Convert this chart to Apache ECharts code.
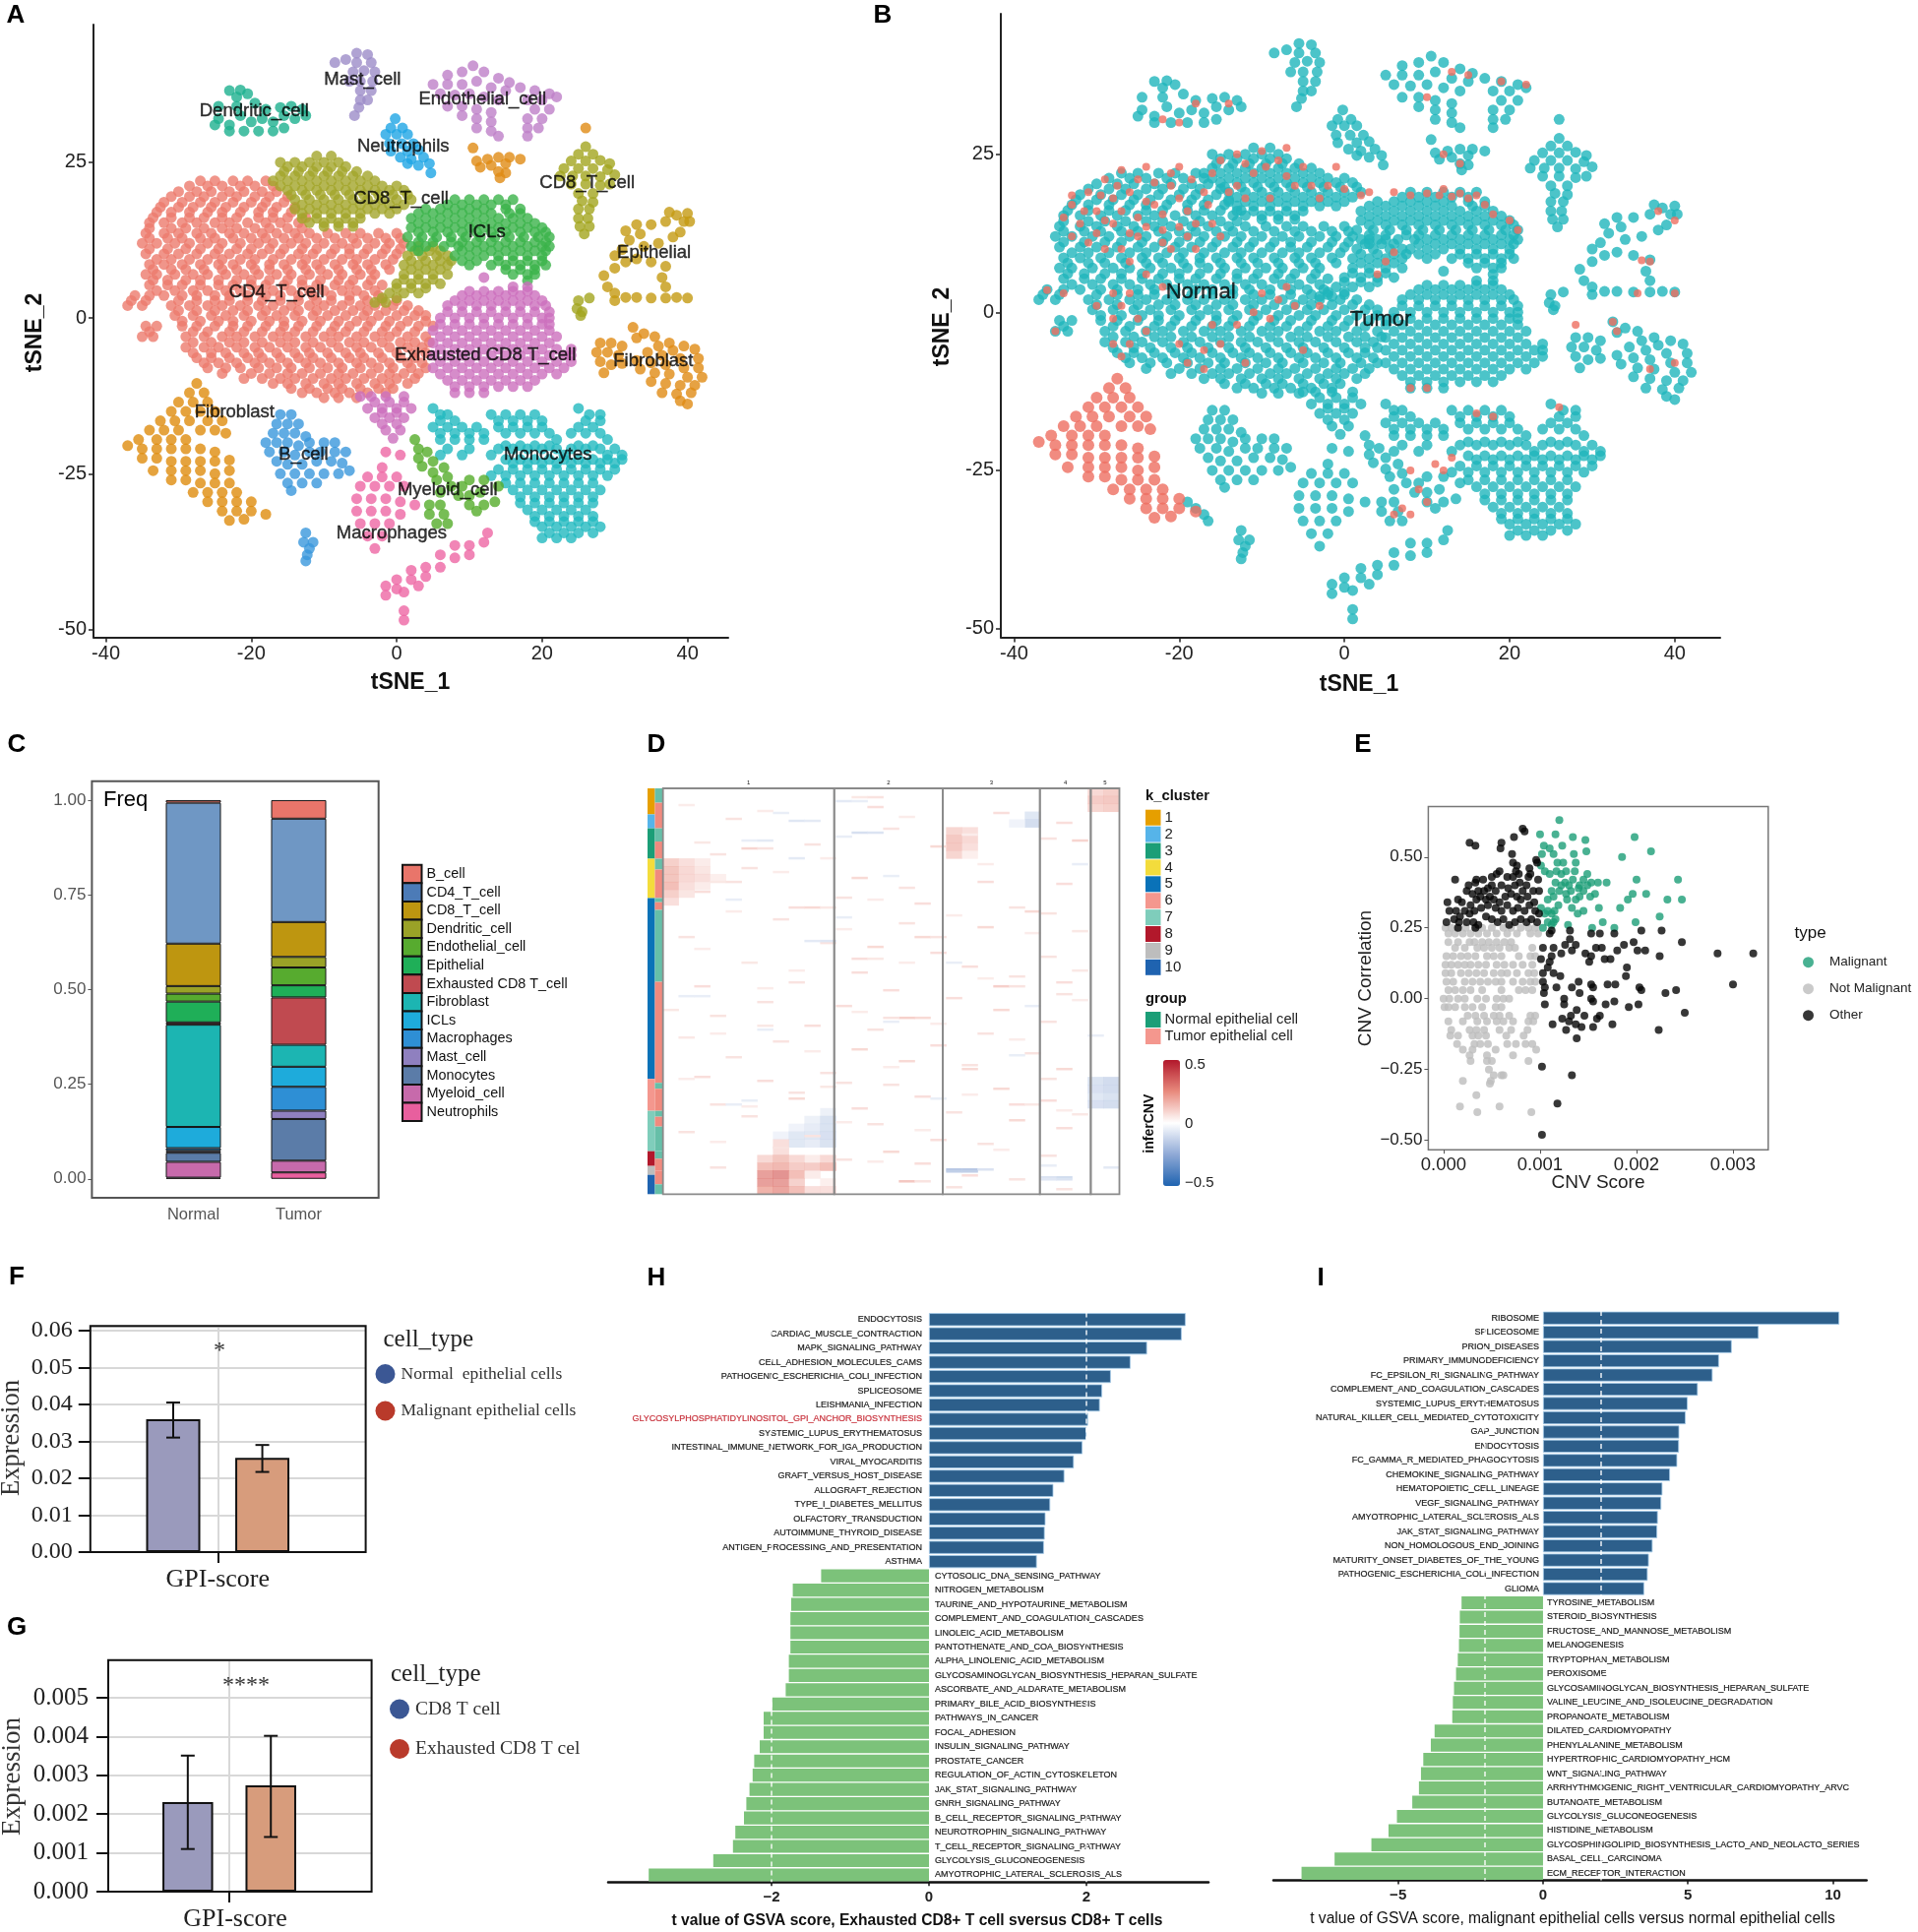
<!DOCTYPE html>
<html>
<head>
<meta charset="utf-8">
<title>scRNA figure</title>
<script src="https://cdn.jsdelivr.net/npm/echarts@6/dist/echarts.min.js"></script>
<style>html,body{margin:0;background:#fff}#main{width:1949px;height:1963px}</style>
</head>
<body>
<div id="main"></div>
<script>
var SANS = 'Liberation Sans', SERIF = 'Liberation Serif';

// ---- t-SNE points. rows are [y, x, x, x ...]
var cd4Rows = [
[22,-27,-25,-22.5,-20.5,-18],[20.3,-30,-27.5,-25.5,-23,-21,-18.5,-16.5],[18.6,-32,-29.5,-27,-25,-22.5,-20,-18,-15.5],
[17,-33,-31,-28.5,-26,-24,-21.5,-19,-17,-14.5],[15.3,-34,-32,-29.5,-27.5,-25,-23,-20.5,-18,-16,-13.5],
[13.6,-34.5,-32,-30,-27.5,-25.5,-23,-21,-18.5,-16.5,-14,-12,-9.5,-7,-5,-2.5,0],
[12,-35,-33,-30.5,-28.5,-26,-24,-21.5,-19,-17,-14.5,-12.5,-10,-7.5,-5.5,-3,-1,1],
[10.3,-34.5,-32,-30,-27.5,-25,-23,-20.5,-18.5,-16,-13.5,-11.5,-9,-6.5,-4.5,-2,0],
[8.6,-34,-32,-29.5,-27,-24.5,-22.5,-20,-17.5,-15.5,-13,-11,-8.5,-6,-4,-1.5],
[7,-34.5,-33,-30.5,-28,-26,-23.5,-21,-19,-16.5,-14.5,-12,-9.5,-7.5,-5,-3],
[5.3,-34,-31.5,-29.5,-27,-24.5,-22.5,-20,-18,-15.5,-13,-11,-8.5,-6.5,-4,-2],
[3.6,-36,-34,-32,-29.5,-27.5,-25,-23,-20.5,-18,-16,-13.5,-11.5,-9,-6.5,-4.5,-2.5],
[2,-37,-35,-31,-28.5,-26,-24,-21.5,-19,-17,-14.5,-12,-10,-7.5,-5,-3,-.5,1.5],
[.4,-30.5,-28,-25.5,-23.5,-21,-18.5,-16.5,-14,-11.5,-9.5,-7,-4.5,-2.5,0,2.5,4],
[-1.3,-34.5,-33,-29.5,-27.5,-25,-22.5,-20.5,-18,-15.5,-13.5,-11,-8.5,-6.5,-4,-1.5,.5,3,5],
[-3,-35,-33.5,-29,-26.5,-24,-22,-19.5,-17,-15,-12.5,-10,-8,-5.5,-3,-1,1.5,4],
[-4.7,-29,-26.5,-24.5,-22,-19.5,-17.5,-15,-12.5,-10.5,-8,-5.5,-3.5,-1,1.5,3.5],
[-6.4,-27.5,-25.5,-23,-20.5,-18.5,-16,-13.5,-11.5,-9,-6.5,-4.5,-2,.5,2.5],
[-8,-26,-23.5,-21.5,-19,-16.5,-14.5,-12,-9.5,-7.5,-5,-2.5,-.5,2,4],
[-9.7,-21,-18.5,-16,-14,-11.5,-9,-7,-4.5,-2,0,2.5],[-11.3,-14.5,-12,-9.5,-7.5,-5,-2.5,-.5],[-12.8,-10,-8,-5.5],
[21.2,-28.5,-26,-24,-21.5,-19.5,-17],[19.5,-31,-28.5,-26.5,-24,-22,-19.5,-17.5,-15],[17.8,-32.5,-30,-28,-25.5,-23.5,-21,-18.5,-16.5,-14],
[16.1,-33.5,-31,-28.5,-26.5,-24,-22,-19,-17,-15,-12.5],[14.4,-34,-31,-29,-26.5,-24,-22,-19.5,-17.5,-15,-13],
[12.8,-34,-31.5,-29.5,-27,-25,-22.5,-20,-18,-15.5,-13.5,-11,-8.5,-6,-4,-1.5,.5],[11.1,-34,-31.5,-29,-27,-24.5,-22,-20,-17.5,-15.5,-13,-11,-8.5,-6.5,-4,-1.5,.5],
[9.4,-33,-31,-28.5,-26,-24,-21.5,-19.5,-17,-14.5,-12.5,-10,-7.5,-5.5,-3,-.5],[7.8,-33.5,-31,-29,-26.5,-24,-22,-19.5,-17.5,-15,-12.5,-10.5,-8,-5.5,-3.5,-1],
[6.1,-33.5,-31.5,-29,-27,-24.5,-22,-20,-17.5,-15,-13,-10.5,-8,-6,-3.5],[4.4,-33,-30.5,-28,-26,-23.5,-21.5,-19,-17,-14.5,-12,-10,-7.5,-5.5,-3],
[2.8,-36.5,-34.5,-30,-27.5,-25,-23,-20.5,-18.5,-16,-13.5,-11,-9,-6.5,-4,-2,0],[1.2,-30,-27.5,-25,-22.5,-20.5,-18,-15.5,-13.5,-11,-8.5,-6,-4,-1.5,1,3],
[-.5,-29.5,-27,-24.5,-22.5,-20,-17.5,-15.5,-13,-10.5,-8,-5.5,-3.5,-1,1.5,4],[-2.2,-34,-28,-26,-23,-21,-18.5,-16,-14,-11.5,-9,-7,-4.5,-2,0,2.5],
[-3.9,-28,-25.5,-23,-21,-18.5,-16,-14,-11.5,-9,-6.5,-4.5,-2,.5,2.5,4.5],[-5.6,-28,-25.5,-23.5,-21,-19,-16.5,-14,-12,-9.5,-7,-5,-2.5,0,2.5,4],
[-7.2,-26.5,-24.5,-22,-19.5,-17.5,-15,-12.5,-10.5,-8,-5.5,-3.5,-1,1.5,3.5],[-8.9,-24,-20,-17.5,-15,-13,-10.5,-8,-6,-3.5,-1,1,3],
[-10.5,-17,-15,-12.5,-10,-8,-5.5,-3,-1,1.5],[-12,-13,-11,-8.5,-6.5,-4,-1.5]];
var cd8MidRows = [
[26,-11,-9],[25,-16,-14,-12,-10,-8],[23.5,-15.5,-13.5,-11.5,-9.5,-7.5,-5.5],[22,-17,-15,-13,-11,-9,-7,-5,-3],
[20.5,-15,-13,-11,-9,-7,-5,-3,-1,1],[19,-14,-12,-10,-8,-6,-4,-2,0,2],[17.5,-14,-12,-10,-8,-6,-4,-2,0],[16,-13,-11,-9,-7,-5],[14.7,-10,-8,-6],
[11.5,3,5],[10,1.5,3.5,5.5,7],[8.5,1,3,5,7],[7,1,3,5,7],[5.5,0,2,4,6],[4,-1,1,3],[2.5,-3,-1.5],
[24.3,-15,-13,-11,-9,-7],[22.8,-16,-14,-12,-10,-8,-6,-4],[21.2,-16,-14,-12,-10,-8,-6,-4,-2,0],[19.8,-14.5,-12.5,-10.5,-8.5,-6.5,-4.5,-2.5,-.5,1.5],
[18.2,-13,-11,-9,-7,-5,-3,-1,1],[16.8,-13,-11,-9,-7,-5,-3,-1],[15.3,-12,-10,-8,-6],[10.8,2.5,4.5,6],[9.2,2,4,6,7.5],[7.8,2,4,6],[6.2,1,3,5],[4.8,0,2,4],[3.2,-2,0]];
var iclRows = [
[19,8,10,12,14,16],[17.5,4,6,8,10,12,15,17],[16,2,4,6,8,10,12,14,16,18],[14.5,2,4,6,8,10,12,14,16,18,20],
[13,1.5,3.5,5.5,7.5,9.5,11.5,13.5,15.5,17.5,19.5,21],[11.5,2,4,6.5,8.5,10,12,14,16,18,20,21],[10,8,10,12,14,16,18,20],
[8.5,10,13,15,17,19,20.5],[7,16,18,19],[6,18],
[18.2,7,9,11,13,15],[16.8,3,5,7,9,11,13,15.5,17],[15.2,3,5,7,9,11,13,15,17,19],[13.8,3,5,7,9,11,13,15,17,19,20.5],[12.2,3,5,7.5,9,11,13,15,17,19,20.5],[10.8,3,9,11,13,15,17,19,20.5],[9.2,9,11,14,16,18,20],[7.8,15,17,19]];
var exhaustedRows = [
[6.5,12],[5,16,18],[3.6,9,11,13,15,17,19],[2,7,9,11,13,15,17,19,20.5],[0,6,8,10,12,14,16,18,20,21],[-2,5,7,9,11,13,15,17,19,21],
[-4,5,7,9,11,13,15,17,19,21],[-6,5,7,9,11,13,15,17,19,21,23,24],[-8,5,7,9,11,13,15,17,19,21,23],[-10,7,9,11,13,15,17,19],[-12,8,10,12],
[-12.6,-5,-3.5,-1.5,1],[-14.5,-4,-2,0,2],[-16,-3,-1,1],[-18,-1.5,.5],[-19.3,-.5],
[4.3,10,12,14,16,18],[2.8,8,10,12,14,16,18,20],[1,7,9,11,13,15,17,19,21],[-1,6,8,10,12,14,16,18,20,21],[-3,6,8,10,12,14,16,18,20,22],[-5,6,8,10,12,14,16,18,20,22,24],[-7,6,8,10,12,14,16,18,20,22,24],[-9,6,8,10,12,14,16,18,20,22],[-11,8,10,12,14,16,18],[-13.5,-3,-1,1],[-15.2,-2,0],[-17,-2,0]];
var monocyteRows = [
[-14.5,5,25],[-15.5,6,7,13,15,17,19,26.5,28],[-17.5,5,7,9,11,14,16,18,20,25,27],[-19.5,6,8,10,12,22,29],[-20.5,15,17,19,21,25,27],
[-22,6,9,13,23,29,31],[-23.3,16,18,20,22,24,26,28,30],[-25.3,13,15,17,19,21,23,25,27,29],[-27.6,16,18,20,22,24,26,28],
[-29.7,17,19,21,23,25,27],[-31.8,19,21,23,25,27],[-33.5,20,22,24,26,28],[-35.3,20,22,24],
[-16.5,6,8,14,16,18,20,26,28],[-18.5,6,8,10,12,15,17,19,21,24,26,28],[-21,7,10,14,16,18,20,22,24,26,28,30],[-22.7,15,17,19,21,23,25,27,29,31],[-24.3,14,16,18,20,22,24,26,28,30],[-26.5,15,17,19,21,23,25,27],[-28.7,17,19,21,23,25,27],[-30.8,18,20,22,24,26],[-32.7,19,21,23,25,27],[-34.5,21,23,25,27]];
var dendriticPts = [[-23,36.5],[-21.5,36.6],[-20.5,36],[-22,35.5],[-24.5,34],[-22,34],[-19.5,34.5],[-18,33.5],[-16,33.8],[-14.5,34],[-13,33.5],[-24.5,32],[-23,31],[-21.5,32.5],[-20,31.5],[-18.5,32],[-17,31.5],[-15.5,32.5],[-14,32],[-12.5,32.5],[-25,31],[-23,30],[-21,30],[-19,30],[-17,30],[-15.5,30.5]];
var mastPts = [[-5.5,42.5],[-4,42.3],[-7,41.5],[-8.5,41],[-3.5,41],[-5.5,41],[-4.5,39.7],[-6,39.5],[-3,39.5],[-3.3,38],[-5,38],[-6.5,38],[-3.5,36.5],[-5,36.5],[-4,35],[-5,35],[-5.2,33.8],[-5.8,32.5]];
var endothelialPts = [[7,39],[9,39.5],[10.5,40.5],[12,39.5],[14,38.5],[15.5,37.8],[5,37.5],[7,37.5],[9,37.5],[11,38],[13,37],[15,36.5],[17,37],[19,36.5],[21,36],[6,36],[8,35.8],[10,36],[12,35.5],[14,35],[18,35],[20,35],[22,35.5],[7,34],[9,34],[11,33.5],[13,33],[19,33.5],[21,33.5],[9,32.5],[11,32],[13,31.5],[18,32],[20,32],[11,30.5],[13,30],[14,29.2],[18,30.5],[19.5,30.5],[18,29.2]];
var neutrophilPts = [[-.2,32],[-.8,30.5],[.8,30.5],[-1.5,29.5],[0,29.5],[1.5,29.5],[-1,28],[.7,28],[2.3,28],[-.8,26.8],[1.5,26.8],[3,27],[.5,25.8],[2,25.5],[3.7,25.8],[1.5,24.8],[3,24.5],[4.5,24.8],[4.7,23.3]];
var orangeSmallPts = [[26,30.5],[10.5,27.3],[11,25.2],[12.5,25.5],[14,25.8],[15.5,25.8],[17,25.5],[11.5,24.2],[13,24.5],[15,24.8],[14,23.5],[15,23.3],[14.2,22.5]];
var cd8RightPts = [[26,27.5],[25,26.3],[27,26.3],[24,25.2],[26,25.2],[28,25.3],[29.3,24.8],[23,24],[25,24],[27,24],[29,23.8],[30,23],[22.5,22.8],[24.2,22.8],[26,22.8],[28,22.7],[24,21.5],[26,21.5],[28,21.3],[29.3,21.5],[25,20],[27,20],[25.5,18.8],[27,18.6],[25,17.5],[26.5,17.5],[25,16],[26.3,16],[25.2,14.7],[26.5,14.7],[25.8,13.5],[25,2.8],[26.5,3.2],[24.8,1.5],[25.5,1],[25.3,.4]];
var epithelialPts = [[28.5,6.8],[30,8],[31.5,9],[33,9.5],[35,9],[37,8.3],[30,10],[31,11],[32,12.5],[33.5,13.5],[35,15],[37,15.5],[38.5,16.5],[40,16.8],[39.5,15.5],[33,15],[31.5,14],[36,12],[34,11.5],[38,13],[37.5,17],[40.3,15.5],[39,13.8],[29,5],[30,4],[31.5,3.3],[33,3.3],[35,3.2],[37,3.2],[38.5,3.3],[40,3.2],[37,5],[36.5,6.5],[30,2.8]];
var fibroRightPts = [[32.5,-1.5],[34,-2.5],[35.5,-3],[37.5,-4],[39.5,-4.5],[41,-5],[33,-3.2],[28,-4],[29.5,-4],[31,-4.5],[36,-4.5],[38,-5.2],[27.5,-5.5],[29,-5.5],[30.5,-6],[34.5,-5.5],[36.5,-6],[39,-6.5],[41.5,-6.5],[28,-7],[29.5,-7.5],[31,-7.3],[33,-6.8],[35,-7.2],[37,-7.5],[39.5,-8],[41.5,-8],[28.5,-8.8],[33.5,-8.2],[35.5,-8.8],[37.5,-9],[40,-9.5],[42,-9.5],[35,-10.2],[37,-10.5],[39,-10.8],[41,-10.8],[36.5,-12],[38.5,-12.2],[40.5,-12],[39,-13.3],[40,-13.8]];
var fibroLeftPts = [[-27.5,-10.5],[-28.5,-12],[-26.5,-12],[-30,-13.5],[-28,-13.5],[-26,-13.5],[-31,-15],[-29,-15],[-27,-15],[-25,-15],[-32.5,-16.5],[-30.5,-16.5],[-28.5,-16.5],[-26,-16.5],[-24,-16.5],[-34,-18],[-32,-18],[-30,-18],[-27,-18],[-25,-18],[-23.5,-18.5],[-35.5,-19.5],[-33,-19.5],[-31,-19.5],[-29,-19.5],[-37,-20.5],[-35,-21],[-33,-21],[-31,-21],[-29,-21],[-27,-21],[-25,-21.5],[-35,-22.5],[-33,-22.5],[-31,-23],[-29,-23],[-27,-23],[-25,-23],[-23,-22.8],[-33.5,-24.5],[-31,-24.5],[-29,-24.5],[-27,-24.5],[-25,-25],[-23,-24.5],[-31,-26],[-29,-26],[-27,-26.5],[-25,-26.5],[-23,-26.5],[-28,-28],[-26,-28],[-24,-28],[-22,-28],[-26,-29.5],[-24,-29.5],[-22,-29.5],[-20,-29.5],[-24,-31],[-22,-31],[-20,-31],[-18,-31.5],[-23,-32.5],[-21,-32.3]];
var bCellPts = [[-16,-15.5],[-14.5,-15.5],[-16.5,-17],[-15,-17],[-13.5,-17],[-17,-18.5],[-15.5,-18.5],[-14,-18.5],[-12.5,-19],[-18,-20],[-16.5,-20],[-15,-20],[-13.5,-20.5],[-12,-20],[-10,-20],[-8.5,-20],[-17.5,-21.5],[-15.5,-21.5],[-14,-22],[-12,-21.5],[-10.5,-21.5],[-8.5,-21.5],[-7,-21.5],[-16.5,-23],[-15,-23.5],[-13,-23.5],[-11,-23],[-9,-23],[-7.5,-23.3],[-16,-25],[-14,-25],[-12,-25],[-10,-25],[-8,-25],[-15,-26.5],[-13,-26.5],[-11,-26.5],[-14.5,-27.7],[-6.5,-24.5],[-12.5,-34.5],[-12.8,-36],[-12,-37],[-12.3,-38],[-12.5,-39],[-11.5,-36]];
var myeloidPts = [[2.5,-19.5],[3,-21],[4.2,-21.5],[3,-22.5],[5,-23],[3.5,-23.8],[5,-24.8],[6.5,-24],[7,-25.5],[5.5,-26],[7.5,-27],[9,-27],[6,-28],[8.5,-28.5],[10,-28.5],[11.5,-28],[13.5,-29.5],[10,-30],[12,-30],[11,-31],[4.5,-30],[6,-30],[4.5,-31.5],[6.5,-31.5],[5.5,-33],[7,-33],[10,-26],[12,-26],[14,-27]];
var macrophagePts = [[-1.5,-21.5],[.5,-22],[-2,-24],[-4,-25.5],[-2,-25.5],[0,-25.5],[-5,-27],[-3,-27],[-1,-27],[1,-27],[-5.5,-29],[-3.5,-29],[-1.5,-29],[.5,-29.5],[2.5,-30],[-5.5,-31],[-3.5,-31],[-1.5,-31],[.5,-31.5],[-5,-33],[-3,-33],[-1,-33],[-4,-35],[-2,-35],[-3,-37],[12.5,-34.5],[12,-36],[10,-36.5],[8,-36.5],[10,-38],[8,-38.5],[6,-38],[6,-40],[4,-40],[2,-40.5],[4,-41.5],[2,-42],[0,-42],[0,-43.5],[-1.5,-43],[-1.5,-44.5],[1,-44],[3,-43],[1,-47],[1,-48.5]];
var tumorTailPts = [[-19,-30],[-18,-31],[-17,-32],[-16.5,-33]];
var normalPts = [[-33,17],[-32,14],[-33,12],[-31,19],[-30,16],[-30,12.5],[-29,21],[-28,18],[-28,14],[-27,10],[-27,22.5],[-26,19],[-25,15],[-25,12],[-24,23],[-23,17],[-22,13],[-21,20],[-21,10],[-20,23],[-19,16],[-19,12],[-17,19],[-16,14],[-15,24],[-13,25],[-13,20],[-11,22],[-10,25.5],[-9,18],[-8,24],[-6,20],[-5,23],[-3,18],[-2,20],[0,19.5],[2,18.5],[5,8],[6,9.5],[4,6],[8,18.5],[10,18.8],[11.5,18.5],[13,18.3],[14,18.8],[15,18],[17,17],[18,15.5],[20,14.5],[21,13],[-26,3],[-27,1],[-28,-1],[-34,3],[-36,3.5],[-35,-3],[-28,-5],[-27,-7],[-24,-3],[-20,-5],[-19,-8],[-17,-9],[-15,-5],[-13,-2],[-9,-1],[-8,2],[-7,4],[-5,-6],[-3,1],[-10,3],[-12,-8],[8,-12],[10,-12],[12,-25],[9,-28],[10,-30],[11,-24],[8,-25],[6,-32],[8,-32],[7,-31],[13,-23],[16,-16],[18,-16.5],[26,-15],[38,16],[40,14.5],[36,8.2],[37,8],[40,3],[35.5,3],[32.5,-1.5],[33,-3],[40,-8],[37,-9],[28,-2],[22,36],[19,36.5],[15,37.5],[13,38],[10,34],[-20,30],[-18,33],[-14,33],[-22,30.5],[14,23.5],[12,25],
[-34,15],[-33,18.5],[-31.5,16],[-31,11],[-29.5,18.5],[-29,14.5],[-29,10],[-27.5,20],[-27,16],[-26,12.5],[-26,8],[-25,21],[-24,17.5],[-24,13.5],[-23,20.5],[-22,15.5],[-22,11],[-21,22],[-20,18],[-20,13.5],[-18.5,21],[-18,14],[-18,10],[-16.5,17],[-16,22],[-15,12],[-14,19],[-12,23.5],[-12,18],[-9.5,23],[-7,26],[-7,21.5],[-4,20],[-1,23],[-24,6],[-22,4],[-28,3],[-30,1],[-25,-1],[-26,-5],[-17,-6],[-16,-2],[-11,0],[-6,1],[3,19],[6,19],[12,19.5],[16,18.5]];
var clusterLabelNames = ['Dendritic_cell','Mast_cell','Endothelial_cell','Neutrophils','CD8_T_cell','CD8_T_cell','ICLs','Epithelial','CD4_T_cell','Exhausted CD8 T_cell','Fibroblast','Fibroblast','B_cell','Monocytes','Myeloid_cell','Macrophages'];
var clusterLabelPos = [[-19.6,33.2],[-4.7,38.3],[11.8,35.1],[.9,27.6],[26.2,21.6],[.6,19.1],[12.4,13.7],[35.4,10.4],[-16.5,4.2],[12.2,-5.9],[35.3,-6.9],[-22.3,-15.1],[-12.8,-21.9],[20.8,-21.9],[7,-27.6],[-.7,-34.5]];
var groupLabelNames = ['Normal','Tumor'];
var groupLabelPos = [[-17.4,3.1],[4.4,-1.2]];

// ---- C stacked frequencies
var freqNames = ['B_cell','CD4_T_cell','CD8_T_cell','Dendritic_cell','Endothelial_cell','Epithelial','Exhausted CD8 T_cell','Fibroblast','ICLs','Macrophages','Mast_cell','Monocytes','Myeloid_cell','Neutrophils'];
var freqColors = ['#E9756A','#6F97C4','#BE9610','#9AA227','#57AB2F','#1FAF58','#C04A50','#1CB5B2','#1EABDB','#2E8FD5','#8F80BF','#5B7CA8','#C76AAB','#E85F9E'];
var freqNormal = [.007,.372,.112,.020,.021,.055,.006,.270,.056,.007,.005,.024,.042,.003];
var freqTumor = [.049,.273,.092,.028,.047,.032,.125,.058,.053,.063,.022,.110,.031,.017];

// ---- D inferCNV: coarse blobs (16x8 px cells) and thin streaks (16x2 px cells), [col,row,value]
var cnvBlobs = [[0,9,.15],[1,9,.1],[2,9,.06],[0,10,.18],[1,10,.12],[2,10,.08],[0,11,.18],[1,11,.12],[2,11,.1],[3,11,.05],[0,12,.2],[1,12,.1],[2,12,.06],[0,13,.15],[1,13,.08],[0,14,.1],
[18,5,.13],[19,5,.1],[18,6,.17],[19,6,.12],[18,7,.17],[19,7,.1],[18,8,.13],[19,8,.05],[23,3,-.1],[23,4,-.14],[22,4,-.05],
[27,0,.12],[28,0,.15],[27,1,.16],[28,1,.17],[27,2,.13],[28,2,.15],[27,37,-.12],[28,37,-.15],[27,38,-.13],[28,38,-.15],[27,39,-.1],[28,39,-.12],[27,40,-.13],[28,40,-.14],
[10,41,-.06],[9,42,-.06],[10,42,-.12],[8,43,-.05],[9,43,-.08],[10,43,-.12],[7,44,-.05],[8,44,-.1],[9,44,-.1],[10,44,-.13],[8,45,-.1],[9,45,-.08],[10,45,-.12],
[7,45,.1],[7,46,.1],[6,47,.12],[7,47,.18],[8,47,.12],[9,47,.06],[10,47,.12],[6,48,.2],[7,48,.22],[8,48,.16],[9,48,.16],[10,48,.2],[6,49,.3],[7,49,.34],[8,49,.2],[9,49,.06],[6,50,.3],[7,50,.3],[8,50,.14],[10,50,.05],[6,51,.24],[7,51,.28],[8,51,.2],[9,51,.1],[10,51,.1]];
var cnvStreaks = [[13,9,.07],[4,15,.06],[21,12,.07],[25,17,.07],[14,20,.06],[9,28,.06],[3,33,.06],[17,29,.08],[5,40,.06],[12,45,.08],[20,47,.07],[25,48,.07],[2,52,.07],[11,55,.06],[16,58,.07],[22,60,.06],[24,63,.06],[7,66,.06],[15,68,.06],[20,70,.08],[26,72,.05],[1,75,.06],[10,78,.06],[13,80,.08],[17,83,.07],[24,85,.06],[5,88,.05],[19,90,.07],[12,93,.07],[22,95,.06],[8,98,.06],[2,100,.07],[14,102,.07],[25,104,.06],[18,106,.07],[6,108,.06],[11,110,.07],[21,112,.08],[3,115,.06],[16,116,.08],[24,118,.06],[9,120,.07],[13,122,.06],[20,124,.06],[1,126,.05],[7,128,.06],[17,130,.07],[12,132,.08],[23,134,.06],[4,136,.06],[15,138,.08],[19,140,.06],[25,142,.08],[10,144,.06],[2,146,.07],[6,148,.07],[14,150,.06],[21,152,.08],[8,154,.06],[16,156,.07],[24,158,.07],[3,160,.06],[12,162,.07],[18,164,.06],[5,166,.06],[22,168,.08],[13,170,.06],[25,172,.07],[1,174,.06],[9,176,.06],[17,178,.07],[20,180,.06],[7,182,.06],[14,184,.08],[24,186,.06],[11,188,.06],[16,190,.07],[3,192,.06],[19,196,.07],[22,198,.06],[15,199,.12],[16,199,.06],[18,202,.06],[25,203,.06],
[5,30,.09],[6,30,.06],[12,4,.05],[13,4,.06],[24,25,.06],[26,26,.09],[2,27,.05],[3,47,.05],[4,47,.06],[15,50,.06],[8,60,.07],[9,60,.08],[10,60,.05],[23,62,.08],[16,75,.08],[17,75,.06],[12,86,.07],[13,86,.05],[26,92,.05],[25,98,.07],[21,100,.1],[22,100,.06],[0,112,.05],[15,116,.1],[14,116,.06],[6,120,.05],[19,142,.08],[24,147,.06],[11,149,.06],[10,151,.05],[8,157,.08],[22,160,.07],[23,160,.05],[26,165,.05],
[1,8,.04],[6,11,.04],[15,14,.04],[19,23,.04],[10,35,.04],[20,38,.04],[7,42,.04],[13,56,.04],[4,62,.04],[18,64,.04],[11,71,.04],[23,73,.04],[2,81,.04],[15,88,.04],[8,92,.04],[20,96,.04],[6,101,.04],[26,107,.04],[12,113,.04],[17,119,.04],[3,124,.04],[22,127,.04],[9,133,.04],[14,141,.04],[1,147,.04],[19,155,.04],[5,161,.04],[25,163,.04],[11,169,.04],[16,173,.04],[3,179,.04],[21,183,.04],[13,189,.04],
[11,6,-.06],[12,6,-.05],[7,12,-.05],[8,16,-.07],[9,16,-.06],[12,22,-.09],[13,22,-.08],[11,24,-.05],[5,26,-.05],[6,26,-.06],[8,35,-.06],[14,44,-.05],[26,38,-.05],[4,56,-.05],[11,65,-.05],[9,77,-.06],[10,77,-.07],[18,88,-.05],[1,105,-.05],[2,105,-.05],[23,110,-.05],[6,122,-.05],[14,118,-.05],[27,125,-.05],[22,135,-.05],[17,157,-.05],[4,160,-.05],[5,158,-.05],
[18,193,-.16],[19,193,-.16],[20,193,-.08],[18,194,-.14],[19,194,-.14],[24,197,-.08],[25,197,-.1],[24,198,-.07],[25,198,-.08],[24,191,-.05],[28,192,-.06]];
var cnvBlockEdges = [0,174,284.3,383,434.7,463.8];
var cnvBlockNames = ['1','2','3','4','5'];
var kClusterEdges = [0,13.2,20.3,35.7,55.7,147.5,163.7,184.2,191.7,196.2,206];
var kClusterColors = ['#E69F00','#56B4E9','#1B9E77','#F3DC3C','#0A72B8','#F4978E','#7FCDBB','#B2182B','#BDBDBD','#1F63B0'];
var groupEdges = [0,7.3,20.3,27,35.7,41.2,55.7,57.8,61.7,98.2,149.5,152.5,163.7,166.7,171.7,184.2,188,194,201,206];
var groupIsNormal = [1,0,1,0,1,0,1,0,1,0,1,0,1,0,1,1,0,0,1];
var kClusterNames = ['1','2','3','4','5','6','7','8','9','10'];

// ---- E CNV scatter, x in 1e-3 units
var malignantPts = [[1.2,.63],[1,.58],[1.16,.58],[1.34,.57],[1.47,.56],[1.98,.57],[2.15,.52],[1.85,.5],[1.48,.52],[1.04,.54],[1.1,.53],[1.23,.54],[1.02,.51],[1.14,.51],[1.35,.51],[1.37,.48],[1.01,.47],[1.05,.45],[1.18,.48],[1.24,.48],[1.17,.45],[1.27,.45],[1.36,.45],[1.49,.44],[1.45,.42],[2,.42],[2.43,.42],[1.69,.41],[1.6,.41],[1.53,.41],[1.41,.4],[1.34,.42],[1.26,.41],[1.16,.41],[1.22,.4],[1.12,.38],[1.2,.38],[1.32,.38],[1.41,.36],[1.57,.37],[1.96,.37],[2.1,.37],[2.32,.35],[2.47,.35],[1.91,.35],[1.61,.32],[1.83,.32],[2.24,.29],[1.08,.35],[1.19,.33],[1.33,.32],[1.39,.3],[1.45,.31],[1.01,.32],[1.05,.3],[1.12,.3],[1.16,.28],[1.08,.27],[1.99,.27],[1.65,.27],[1.54,.25],[1.77,.25],[1.29,.26],[1.03,.25],[1.14,.27],[1.28,.35],[1.37,.35],[1.27,.37],[1.49,.4],[1.1,.44],[1.22,.44],[1.3,.4],[1.14,.36],[1.08,.31],[1.15,.31],[1.12,.26],[1.4,.39],[1.45,.38],[1.52,.36]];
var otherPts = [[.27,.55],[.33,.54],[.6,.55],[.59,.53],[.73,.57],[.82,.6],[.84,.59],[.71,.51],[.72,.48],[.76,.47],[.75,.45],[.96,.49],[.97,.48],[.89,.46],[.12,.42],[.26,.4],[.33,.41],[.34,.42],[.41,.42],[.5,.43],[.55,.44],[.58,.45],[.66,.43],[.72,.43],[.78,.44],[.88,.43],[.9,.44],[.98,.42],[.24,.38],[.3,.37],[.36,.38],[.42,.38],[.46,.39],[.5,.4],[.54,.38],[.6,.4],[.67,.39],[.74,.4],[.79,.41],[.82,.38],[.86,.4],[.93,.38],[.99,.38],[.04,.34],[.15,.35],[.19,.34],[.28,.33],[.34,.35],[.38,.36],[.44,.35],[.48,.36],[.52,.35],[.58,.34],[.64,.36],[.7,.37],[.76,.36],[.8,.35],[.87,.36],[.94,.34],[.06,.31],[.13,.31],[.17,.29],[.22,.31],[.27,.3],[.32,.31],[.39,.32],[.46,.33],[.54,.32],[.6,.31],[.66,.33],[.72,.31],[.77,.32],[.84,.31],[.89,.33],[.95,.31],[.99,.3],[.03,.27],[.11,.28],[.16,.27],[.24,.27],[.31,.27],[.36,.26],[.44,.29],[.5,.28],[.56,.27],[.62,.28],[.68,.26],[.74,.27],[.8,.28],[.86,.27],[.91,.28],[.97,.27],[.15,.25],[.33,.25],
[2.05,.24],[2.26,.24],[2.47,.2],[1.97,.2],[2.84,.16],[3.21,.16],[2.24,.15],[3,.05],[2.3,.02],[2.41,.03],[2.5,-.05],[2.23,-.11],[2.09,.17],[2.01,.17],[1.87,.19],[1.8,.17],[1.77,.23],[1.62,.23],[1.53,.23],[1.31,.24],[1.31,.21],[1.1,.23],[1.12,.24],[1.26,.19],[1.37,.19],[1.33,.17],[1.47,.16],[1.53,.15],[1.58,.18],[1.64,.18],[1.67,.14],[1.73,.14],[1.51,.13],[1.03,.18],[1.14,.18],[1.22,.16],[1.12,.15],[1.01,.14],[1.1,.13],[1.08,.11],[1.03,.09],[1.14,.09],[1.21,.08],[1.03,.06],[1.9,.11],[1.89,.08],[1.78,.05],[1.7,.05],[1.53,.05],[1.4,.06],[1.33,.04],[1.17,.04],[1.05,.04],[1.04,.02],[1.41,.02],[1.55,.04],[2.03,.04],[2.05,.03],[1.25,0],[1.53,0],[1.55,-.01],[1.25,-.02],[1.68,-.02],[1.77,-.01],[1.92,-.03],[2.02,-.02],[1.05,-.02],[1.38,-.04],[1.32,-.06],[1.23,-.07],[1.46,-.06],[1.59,-.07],[1.62,-.06],[1.13,-.09],[1.3,-.08],[1.37,-.09],[1.27,-.11],[1.43,-.1],[1.55,-.1],[1.75,-.09],[1.38,-.14],[1.02,-.24],[1.33,-.27],[1.18,-.37],[1.02,-.48]];
var notMalignantRows = [[.25,.02,.08,.15,.23,.33,.4,.5,.62,.7,.8,.88,.95],[.23,.05,.12,.2,.28,.36,.45,.55,.66,.76,.9,.98],[.2,.05,.15,.27,.32,.4,.47,.55,.63,.7],[.18,.12,.22,.35,.42,.5,.58,.68,.74,.92],[.15,.03,.1,.18,.25,.33,.45,.52,.6,.78,.9,.95],[.12,.02,.08,.15,.22,.28,.36,.44,.55,.63,.72,.82,.92],[.09,.02,.08,.18,.26,.34,.42,.52,.6,.66,.76,.88,.94],[.06,.03,.1,.22,.3,.38,.46,.54,.6,.72,.82,.9,.95],[.03,.05,.12,.2,.28,.4,.6,.78,.85,.92],[0,0,.06,.15,.22,.35,.44,.55,.62,.68],[-.03,.01,.05,.12,.22,.3,.4,.54,.6],[-.06,.25,.33,.42,.52,.58,.68,.9,.95],[-.08,.05,.2,.35,.45,.55,.62,.72,.88,.93],[-.11,.08,.27,.34,.42,.58,.7,.87],[-.13,.07,.15,.3,.36,.44,.65,.83],[-.16,.14,.32,.38,.46,.66,.75,.85,.92],[-.18,.2,.3,.54,.96],[-.2,.27,.45,.72],[-.22,.28,.45,.5,.88],[-.25,.47],[-.27,.52,.62,.6],[-.29,.2,.49],[-.3,.48],[-.34,.34],[-.38,.17,.58],[-.4,.35,.91]];

// ---- F, G bars
var fBarX = [-1,1], fMeans = [.036,.0255], fLow = [.031,.0217], fHigh = [.0405,.029];
var gBarX = [-1,1], gMeans = [.00231,.00274], gLow = [.0011,.00141], gHigh = [.00351,.00402];

// ---- H
var hUpNames = ['ENDOCYTOSIS','CARDIAC_MUSCLE_CONTRACTION','MAPK_SIGNALING_PATHWAY','CELL_ADHESION_MOLECULES_CAMS','PATHOGENIC_ESCHERICHIA_COLI_INFECTION','SPLICEOSOME','LEISHMANIA_INFECTION','GLYCOSYLPHOSPHATIDYLINOSITOL_GPI_ANCHOR_BIOSYNTHESIS','SYSTEMIC_LUPUS_ERYTHEMATOSUS','INTESTINAL_IMMUNE_NETWORK_FOR_IGA_PRODUCTION','VIRAL_MYOCARDITIS','GRAFT_VERSUS_HOST_DISEASE','ALLOGRAFT_REJECTION','TYPE_I_DIABETES_MELLITUS','OLFACTORY_TRANSDUCTION','AUTOIMMUNE_THYROID_DISEASE','ANTIGEN_PROCESSING_AND_PRESENTATION','ASTHMA'];
var hUpValues = [3.26,3.21,2.77,2.56,2.31,2.2,2.17,2.02,2,1.95,1.84,1.72,1.58,1.54,1.48,1.47,1.46,1.37];
var hDownNames = ['CYTOSOLIC_DNA_SENSING_PATHWAY','NITROGEN_METABOLISM','TAURINE_AND_HYPOTAURINE_METABOLISM','COMPLEMENT_AND_COAGULATION_CASCADES','LINOLEIC_ACID_METABOLISM','PANTOTHENATE_AND_COA_BIOSYNTHESIS','ALPHA_LINOLENIC_ACID_METABOLISM','GLYCOSAMINOGLYCAN_BIOSYNTHESIS_HEPARAN_SULFATE','ASCORBATE_AND_ALDARATE_METABOLISM','PRIMARY_BILE_ACID_BIOSYNTHESIS','PATHWAYS_IN_CANCER','FOCAL_ADHESION','INSULIN_SIGNALING_PATHWAY','PROSTATE_CANCER','REGULATION_OF_ACTIN_CYTOSKELETON','JAK_STAT_SIGNALING_PATHWAY','GNRH_SIGNALING_PATHWAY','B_CELL_RECEPTOR_SIGNALING_PATHWAY','NEUROTROPHIN_SIGNALING_PATHWAY','T_CELL_RECEPTOR_SIGNALING_PATHWAY','GLYCOLYSIS_GLUCONEOGENESIS','AMYOTROPHIC_LATERAL_SCLEROSIS_ALS'];
var hDownValues = [-1.37,-1.73,-1.75,-1.76,-1.76,-1.76,-1.78,-1.78,-1.82,-1.99,-2.1,-2.1,-2.15,-2.22,-2.24,-2.28,-2.32,-2.35,-2.46,-2.49,-2.74,-3.56];
var hHighlight = 'GLYCOSYLPHOSPHATIDYLINOSITOL_GPI_ANCHOR_BIOSYNTHESIS';

// ---- I
var iUpNames = ['RIBOSOME','SPLICEOSOME','PRION_DISEASES','PRIMARY_IMMUNODEFICIENCY','FC_EPSILON_RI_SIGNALING_PATHWAY','COMPLEMENT_AND_COAGULATION_CASCADES','SYSTEMIC_LUPUS_ERYTHEMATOSUS','NATURAL_KILLER_CELL_MEDIATED_CYTOTOXICITY','GAP_JUNCTION','ENDOCYTOSIS','FC_GAMMA_R_MEDIATED_PHAGOCYTOSIS','CHEMOKINE_SIGNALING_PATHWAY','HEMATOPOIETIC_CELL_LINEAGE','VEGF_SIGNALING_PATHWAY','AMYOTROPHIC_LATERAL_SCLEROSIS_ALS','JAK_STAT_SIGNALING_PATHWAY','NON_HOMOLOGOUS_END_JOINING','MATURITY_ONSET_DIABETES_OF_THE_YOUNG','PATHOGENIC_ESCHERICHIA_COLI_INFECTION','GLIOMA'];
var iUpValues = [10.22,7.44,6.51,6.07,5.85,5.34,4.99,4.92,4.7,4.69,4.63,4.38,4.12,4.08,3.96,3.94,3.78,3.65,3.61,3.49];
var iDownNames = ['TYROSINE_METABOLISM','STEROID_BIOSYNTHESIS','FRUCTOSE_AND_MANNOSE_METABOLISM','MELANOGENESIS','TRYPTOPHAN_METABOLISM','PEROXISOME','GLYCOSAMINOGLYCAN_BIOSYNTHESIS_HEPARAN_SULFATE','VALINE_LEUCINE_AND_ISOLEUCINE_DEGRADATION','PROPANOATE_METABOLISM','DILATED_CARDIOMYOPATHY','PHENYLALANINE_METABOLISM','HYPERTROPHIC_CARDIOMYOPATHY_HCM','WNT_SIGNALING_PATHWAY','ARRHYTHMOGENIC_RIGHT_VENTRICULAR_CARDIOMYOPATHY_ARVC','BUTANOATE_METABOLISM','GLYCOLYSIS_GLUCONEOGENESIS','HISTIDINE_METABOLISM','GLYCOSPHINGOLIPID_BIOSYNTHESIS_LACTO_AND_NEOLACTO_SERIES','BASAL_CELL_CARCINOMA','ECM_RECEPTOR_INTERACTION'];
var iDownValues = [-2.81,-2.87,-2.88,-2.9,-2.94,-3,-3.07,-3.11,-3.13,-3.74,-3.87,-4.13,-4.21,-4.28,-4.51,-5.04,-5.33,-5.92,-7.19,-8.33];

// ---- helpers
var grids = [], xAxes = [], yAxes = [], series = [], graphics = [], legends = [];
function addGrid(left, top, width, height, x, y) {
    var i = grids.length;
    grids.push({left: left, top: top, width: width, height: height, containLabel: false});
    xAxes.push(Object.assign({gridIndex: i, splitLine: {show: false}}, x));
    yAxes.push(Object.assign({gridIndex: i, splitLine: {show: false}}, y));
    return i;
}
function text(x, y, s, size, opt) {
    opt = opt || {};
    graphics.push({type: 'text', x: x, y: y, rotation: opt.rot || 0, silent: true, z: 50, style: {
        text: s, fontSize: size, fontFamily: opt.font || SANS, fontWeight: opt.weight || 'normal',
        fill: opt.color || '#111', textAlign: opt.align || 'center', textVerticalAlign: 'middle'}});
}
function rowsToPts(rows) {
    return rows.reduce(function (acc, r) {
        return acc.concat(r.slice(1).map(function (x) { return [x, r[0]]; }));
    }, []);
}
function tsneAxis(min, max, vals, line) {
    return {type: 'value', min: min, max: max,
        axisLine: {show: true, onZero: false, lineStyle: {color: '#222', width: 2}},
        axisTick: {show: true, length: 5, customValues: vals, lineStyle: {color: '#222', width: 1.5}},
        axisLabel: {show: true, customValues: vals, fontSize: 20, color: '#222', margin: 7, fontFamily: SANS}};
}
function addScatter(g, name, pts, color, size) {
    series.push({type: 'scatter', name: name, xAxisIndex: g, yAxisIndex: g, data: pts, symbolSize: size, silent: true, itemStyle: {color: color}});
}
function addLabels(g, names, pos, size) {
    series.push({type: 'scatter', xAxisIndex: g, yAxisIndex: g, symbolSize: 1, silent: true, itemStyle: {color: 'transparent'}, z: 20,
        data: names.map(function (n, i) { return {name: n, value: pos[i]}; }),
        label: {show: true, position: 'inside', fontSize: size, color: '#000', textBorderColor: '#000', textBorderWidth: .4, fontFamily: SANS, formatter: function (p) { return p.name; }}});
}

var cd4Pts = rowsToPts(cd4Rows), cd8MidPts = rowsToPts(cd8MidRows), iclPts = rowsToPts(iclRows),
    exhaustedPts = rowsToPts(exhaustedRows), monocytePts = rowsToPts(monocyteRows);

// ---- A
var gA = addGrid(95, 25, 645, 622.5, tsneAxis(-41.7, 45.6, [-40,-20,0,20,40]), tsneAxis(-51.25, 47.1, [-50,-25,0,25]));
var tsneA = [['cd4',cd4Pts,'#EC7B6D'],['cd8m',cd8MidPts,'#A3A52A'],['icl',iclPts,'#3BB34A'],['exh',exhaustedPts,'#CC6FBD'],['den',dendriticPts,'#1DB08F'],['mast',mastPts,'#9C8CC8'],['endo',endothelialPts,'#BE80C8'],['neu',neutrophilPts,'#1EA5E5'],['osm',orangeSmallPts,'#E08B14'],['cd8r',cd8RightPts,'#A3A51E'],['epi',epithelialPts,'#C49A12'],['fr',fibroRightPts,'#E08B14'],['fl',fibroLeftPts,'#DE8C0E'],['bc',bCellPts,'#3A97DC'],['mono',monocytePts,'#22B9BF'],['mye',myeloidPts,'#55AD2B'],['mac',macrophagePts,'#EE67A4']];
tsneA.forEach(function (c) { addScatter(gA, 'tsne ' + c[0], c[1], c[2], 11); });
addLabels(gA, clusterLabelNames, clusterLabelPos, 18.5);
text(417, 694, 'tSNE_1', 23, {weight: 'bold'});
text(36, 338, 'tSNE_2', 23, {weight: 'bold', rot: Math.PI / 2});

// ---- B
var gB = addGrid(1017, 14, 731, 633.5, tsneAxis(-41.6, 45.5, [-40,-20,0,20,40]), tsneAxis(-51.4, 47.2, [-50,-25,0,25]));
var tumorPts = [].concat(cd4Pts, cd8MidPts, iclPts, exhaustedPts, dendriticPts, mastPts, endothelialPts, neutrophilPts, orangeSmallPts, cd8RightPts, epithelialPts, fibroRightPts, bCellPts, monocytePts, myeloidPts, macrophagePts, tumorTailPts);
addScatter(gB, 'Tumor', tumorPts, '#1FB5BB', 11);
addScatter(gB, 'Normal', normalPts, '#EE6E60', 8);
addScatter(gB, 'Normal fibroblast', fibroLeftPts, '#EE6E60', 12);
addLabels(gB, groupLabelNames, groupLabelPos, 22);
text(1381, 696, 'tSNE_1', 23, {weight: 'bold'});
text(958, 332, 'tSNE_2', 23, {weight: 'bold', rot: Math.PI / 2});

// ---- C
var gC0 = addGrid(93.4, 793.7, 291.3, 423.3,
    {type: 'value', min: 0, max: 1, show: false},
    {type: 'value', min: -.05, max: 1.05, axisLine: {show: false, onZero: false},
     axisTick: {show: true, length: 4, customValues: [0,.25,.5,.75,1], lineStyle: {color: '#555'}},
     axisLabel: {customValues: [0,.25,.5,.75,1], fontSize: 17, color: '#555', margin: 6, formatter: function (v) { return v.toFixed(2); }}});
grids[gC0].show = true; grids[gC0].borderColor = '#555'; grids[gC0].borderWidth = 2; grids[gC0].backgroundColor = '#fff';
var gC = addGrid(143, 793.7, 214, 423.3,
    {type: 'category', data: ['Normal','Tumor'], axisLine: {show: false, onZero: false}, axisTick: {show: false}, axisLabel: {fontSize: 16.5, color: '#555', margin: 9, fontFamily: SANS}},
    {type: 'value', min: -.05, max: 1.05, show: false});
for (var s = freqNames.length - 1; s >= 0; s--) {
    series.push({type: 'bar', name: freqNames[s], stack: 'freq', xAxisIndex: gC, yAxisIndex: gC, barWidth: 56, silent: true,
        data: [freqNormal[s], freqTumor[s]],
        itemStyle: {color: freqColors[s], borderColor: '#141414', borderWidth: 1}});
}
legends.push({left: 408, top: 877.7, padding: 0, orient: 'vertical', itemWidth: 19.5, itemHeight: 18.6, itemGap: -2, selectedMode: false, icon: 'rect',
    textStyle: {fontSize: 14.4, color: '#111', fontFamily: SANS},
    data: freqNames.map(function (n) { return n === 'CD4_T_cell' ? {name: n, itemStyle: {color: '#4C7BB7'}} : n; })});
text(105, 813, 'Freq', 22, {align: 'left', color: '#000'});

// ---- D
function indices(n) { var a = []; for (var i = 0; i < n; i++) a.push(String(i)); return a; }
function hiddenCat(n, inv) { return {type: 'category', data: indices(n), show: false, inverse: inv}; }
var gDb = addGrid(673.7, 801, 463.8, 412.3, hiddenCat(29), hiddenCat(52, true));
var gDs = addGrid(673.7, 801, 463.8, 412.3, hiddenCat(29), hiddenCat(206, true));
var heatIdx = [series.length, series.length + 1];
series.push({type: 'heatmap', xAxisIndex: gDb, yAxisIndex: gDb, data: cnvBlobs, silent: true, progressive: 0, itemStyle: {opacity: .68}});
series.push({type: 'heatmap', xAxisIndex: gDs, yAxisIndex: gDs, data: cnvStreaks, silent: true, progressive: 0});
var gDf = addGrid(673.7, 801, 463.8, 412.3, {type: 'value', min: 0, max: 463.8, show: false}, {type: 'value', min: 0, max: 1, show: false});
series.push({type: 'custom', xAxisIndex: gDf, yAxisIndex: gDf, silent: true, z: 10, clip: false,
    data: cnvBlockEdges.slice(0, -1).map(function (e, i) { return [e, cnvBlockEdges[i + 1]]; }),
    renderItem: function (params, api) {
        var a = api.coord([api.value(0), 1]), b = api.coord([api.value(1), 0]);
        return {type: 'rect', shape: {x: a[0], y: a[1], width: b[0] - a[0], height: b[1] - a[1]},
            style: {fill: 'none', stroke: '#8a8a8a', lineWidth: 1.8}};
    }});
cnvBlockNames.forEach(function (n, i) {
    text(673.7 + (cnvBlockEdges[i] + cnvBlockEdges[i + 1]) / 2, 795, n, 6);
});
// annotation strips: column, start row, end row, colour
var stripData = [];
kClusterColors.forEach(function (c, i) { stripData.push([0, kClusterEdges[i], kClusterEdges[i + 1], c]); });
groupIsNormal.forEach(function (f, i) { stripData.push([1, groupEdges[i], groupEdges[i + 1], f ? '#66BFA8' : '#F08A7E']); });
var gDa = addGrid(658, 801, 15, 412.3, {type: 'value', min: 0, max: 2, show: false}, {type: 'value', min: 0, max: 206, inverse: true, show: false});
series.push({type: 'custom', xAxisIndex: gDa, yAxisIndex: gDa, silent: true, data: stripData,
    renderItem: function (params, api) {
        var a = api.coord([api.value(0), api.value(1)]), b = api.coord([api.value(0) + 1, api.value(2)]);
        return {type: 'rect', shape: {x: a[0], y: a[1], width: b[0] - a[0], height: b[1] - a[1]}, style: {fill: stripData[params.dataIndex][3]}};
    }});
text(1164, 809, 'k_cluster', 14.8, {align: 'left', weight: 'bold'});
kClusterNames.forEach(function (n, i) {
    var y = 822.7 + i * 16.9;
    graphics.push({type: 'rect', silent: true, shape: {x: 1164, y: y, width: 15.5, height: 16}, style: {fill: kClusterColors[i]}});
    text(1183.6, y + 8, n, 15, {align: 'left', color: '#222'});
});
text(1164, 1015, 'group', 14.8, {align: 'left', weight: 'bold'});
[['Normal epithelial cell','#1B9E77',1028],['Tumor epithelial cell','#F4978E',1045]].forEach(function (g) {
    graphics.push({type: 'rect', silent: true, shape: {x: 1164, y: g[2], width: 15.5, height: 16}, style: {fill: g[1]}});
    text(1183.6, g[2] + 8, g[0], 14.7, {align: 'left', color: '#222'});
});
text(1168, 1141.7, 'inferCNV', 14, {weight: 'bold', rot: Math.PI / 2});
text(1204, 1081.7, '0.5', 15, {align: 'left', color: '#222'});
text(1204, 1141.7, '0', 15, {align: 'left', color: '#222'});
text(1204, 1202, '\u22120.5', 15, {align: 'left', color: '#222'});

// ---- E
var gE = addGrid(1451.4, 819.5, 345.4, 348.7,
    {type: 'value', min: -.000158, max: .003365, axisLine: {show: false, onZero: false},
     axisTick: {show: true, length: 4, customValues: [0,.001,.002,.003], lineStyle: {color: '#555'}},
     axisLabel: {customValues: [0,.001,.002,.003], fontSize: 18.5, color: '#222', margin: 6, formatter: function (v) { return v.toFixed(3); }}},
    {type: 'value', min: -.533, max: .678, axisLine: {show: false, onZero: false},
     axisTick: {show: true, length: 4, customValues: [-.5,-.25,0,.25,.5], lineStyle: {color: '#555'}},
     axisLabel: {customValues: [-.5,-.25,0,.25,.5], fontSize: 17, color: '#222', margin: 6, formatter: function (v) { return v.toFixed(2).replace('-', '\u2212'); }}});
grids[gE].show = true; grids[gE].borderColor = '#777'; grids[gE].borderWidth = 1.5;
function milli(p) { return [p[0] / 1000, p[1]]; }
addScatter(gE, 'Not Malignant', rowsToPts(notMalignantRows).map(function (p) { return [p[0] / 1000, p[1]]; }), '#BDBDBD', 8);
addScatter(gE, 'Malignant', malignantPts.map(milli), '#1B9E77', 8);
addScatter(gE, 'Other', otherPts.map(milli), '#050505', 8);
legends.push({left: 1832, top: 970.7, padding: 0, orient: 'vertical', itemWidth: 11, itemHeight: 11, itemGap: 13, selectedMode: false, icon: 'circle',
    textStyle: {fontSize: 13.5, color: '#222', fontFamily: SANS, padding: [0, 0, 0, 11]}, data: ['Malignant','Not Malignant','Other']});
text(1823.6, 948, 'type', 17, {align: 'left'});
text(1624, 1202, 'CNV Score', 19, {color: '#222'});
text(1388, 994, 'CNV Correlation', 19, {rot: Math.PI / 2, color: '#222'});

// ---- F, G
function errorRender(cap) {
    return function (params, api) {
        var x = api.value(0), lo = api.coord([x, api.value(1)]), hi = api.coord([x, api.value(2)]);
        var st = {stroke: '#111', lineWidth: 2};
        return {type: 'group', children: [
            {type: 'line', shape: {x1: lo[0], y1: lo[1], x2: hi[0], y2: hi[1]}, style: st},
            {type: 'line', shape: {x1: lo[0] - cap, y1: lo[1], x2: lo[0] + cap, y2: lo[1]}, style: st},
            {type: 'line', shape: {x1: hi[0] - cap, y1: hi[1], x2: hi[0] + cap, y2: hi[1]}, style: st}]};
    };
}
function scoreBars(rect, xr, yMax, yStep, digits, fontSize, margin, barW, xs, means, lows, highs, names, labelShift) {
    var g = addGrid(rect[0], rect[1], rect[2], rect[3],
        {type: 'value', min: xr[0], max: xr[1], axisLine: {show: false, onZero: false},
         axisTick: {show: true, length: 11, customValues: [0], lineStyle: {color: '#111', width: 2}},
         axisLabel: {customValues: [0], fontSize: 26, color: '#222', margin: 15, padding: [0, 0, 0, labelShift], fontFamily: SERIF, formatter: function () { return 'GPI-score'; }}},
        {type: 'value', min: 0, max: yMax, interval: yStep, axisLine: {show: false, onZero: false},
         axisTick: {show: true, length: 12, lineStyle: {color: '#111', width: 2}},
         axisLabel: {fontSize: fontSize, color: '#222', margin: margin, fontFamily: SERIF, showMaxLabel: false, formatter: function (v) { return v.toFixed(digits); }},
         splitLine: {show: true, lineStyle: {color: '#d8d8d8', width: 2}}});
    ['#9A9ABC','#D79C7C'].forEach(function (c, i) {
        series.push({type: 'bar', name: names[i], xAxisIndex: g, yAxisIndex: g, barWidth: barW, barGap: '-100%', silent: true,
            data: [[xs[i], means[i]]], itemStyle: {color: c, borderColor: '#111', borderWidth: 2},
            markLine: i ? undefined : {silent: true, symbol: 'none', label: {show: false}, lineStyle: {color: '#d8d8d8', width: 2, type: 'solid'}, data: [{xAxis: 0}]}});
    });
    series.push({type: 'custom', xAxisIndex: g, yAxisIndex: g, silent: true, z: 6,
        data: xs.map(function (x, i) { return [x, lows[i], highs[i]]; }), encode: {x: 0, y: [1, 2]}, renderItem: errorRender(7)});
    // black frame goes over the grey grid lines
    series.push({type: 'custom', xAxisIndex: g, yAxisIndex: g, silent: true, z: 7, clip: false, data: [[xr[0], 0, xr[1], yMax]],
        renderItem: function (params, api) {
            var a = api.coord([api.value(0), api.value(3)]), b = api.coord([api.value(2), api.value(1)]);
            return {type: 'rect', shape: {x: a[0], y: a[1], width: b[0] - a[0], height: b[1] - a[1]}, style: {fill: 'none', stroke: '#111', lineWidth: 2}};
        }});
}
var fNames = ['Normal  epithelial cells','Malignant epithelial cells'];
var gNames = ['CD8 T cell','Exhausted CD8 T cel'];
scoreBars([91.8, 1347.3, 279.8, 229.7], [-2.86, 3.32], .0612, .01, 2, 24, 18, 55, fBarX, fMeans, fLow, fHigh, fNames, 0);
scoreBars([110, 1686.7, 267.6, 236.8], [-2.915, 3.426], .005975, .001, 3, 25, 20, 51.5, gBarX, gMeans, gLow, gHigh, gNames, 12);
function circleLegend(left, top, gap, names, size) {
    legends.push({left: left, top: top, padding: 0, orient: 'vertical', itemWidth: 20, itemHeight: 20, itemGap: gap, selectedMode: false, icon: 'circle',
        textStyle: {fontSize: size, color: '#333', fontFamily: SERIF, padding: [0, 0, 0, 1]},
        data: [{name: names[0], itemStyle: {color: '#3B5794', borderWidth: 0}}, {name: names[1], itemStyle: {color: '#B93A2B', borderWidth: 0}}]});
}
circleLegend(381.5, 1386, 17.5, fNames, 17.5);
circleLegend(396, 1726.5, 20.5, gNames, 19.5);
text(389.5, 1361, 'cell_type', 25, {font: SERIF, align: 'left', color: '#222'});
text(397, 1701, 'cell_type', 25, {font: SERIF, align: 'left', color: '#222'});
text(12, 1461, 'Expression', 26.6, {font: SERIF, rot: Math.PI / 2, color: '#333'});
text(13, 1805, 'Expression', 27, {font: SERIF, rot: Math.PI / 2, color: '#333'});
text(223, 1373, '*', 24, {font: SERIF, color: '#333'});
text(250, 1713, '****', 24, {font: SERIF, color: '#333'});

// ---- H, I
function gsvaBars(rect, xr, ticks, upNames, upValues, downNames, downValues, gapL, gapR, stackName, highlight) {
    var names = upNames.concat(downNames);
    var g = addGrid(rect[0], rect[1], rect[2], rect[3],
        {type: 'value', min: xr[0], max: xr[1], axisLine: {show: true, onZero: false, lineStyle: {color: '#111', width: 2.5}},
         axisTick: {show: true, length: 4, customValues: ticks, lineStyle: {color: '#111', width: 1.5}},
         axisLabel: {customValues: ticks, fontSize: 15, fontWeight: 'bold', color: '#222', margin: 8, formatter: function (v) { return String(v).replace('-', '\u2212'); }}},
        {type: 'category', data: names, inverse: true, show: false});
    var marks = {silent: true, symbol: 'none', label: {show: false}, lineStyle: {color: 'rgba(255,255,255,.9)', width: 1.5, type: [5, 4]}, data: [{xAxis: 2}, {xAxis: -2}]};
    var labelStyle = {show: true, fontSize: 9, color: '#1a1a1a', textBorderColor: '#1a1a1a', textBorderWidth: .2, fontFamily: SANS, formatter: function (p) { return p.name; }};
    series.push({type: 'bar', stack: stackName, xAxisIndex: g, yAxisIndex: g, barCategoryGap: '9%', silent: true,
        data: upValues.map(function (v, i) { return upNames[i] === highlight ? {value: v, label: {color: '#C8323C', textBorderColor: '#C8323C'}} : v; }).concat(downNames.map(function () { return '-'; })),
        itemStyle: {color: '#2D5F8B', borderColor: '#A6CBE8', borderWidth: .8},
        label: Object.assign({position: 'left', distance: gapL}, labelStyle), markLine: marks, z: 3});
    series.push({type: 'bar', stack: stackName, xAxisIndex: g, yAxisIndex: g, silent: true,
        data: upNames.map(function () { return '-'; }).concat(downValues),
        itemStyle: {color: '#7CC27A'},
        label: Object.assign({position: 'right', distance: gapR}, labelStyle), z: 2});
}
gsvaBars([618, 1333.5, 610, 578.7], [-4.075, 3.55], [-2,0,2], hUpNames, hUpValues, hDownNames, hDownValues, 7, 6, 'gsvaH', hHighlight);
gsvaBars([1294, 1332, 602.7, 578.6], [-9.3, 11.16], [-5,0,5,10], iUpNames, iUpValues, iDownNames, iDownValues, 4, 4, 'gsvaI');
text(932, 1951.7, 't value of GSVA score, Exhausted CD8+ T cell sversus CD8+ T cells', 15.6, {weight: 'bold'});
text(1598, 1950, 't value of GSVA score, malignant epithelial cells versus normal epithelial cells', 15.6, {});

// ---- panel letters
[['A',16,16],['B',897,16],['C',17,757],['D',667,757],['E',1385,757],['F',17,1298],['G',17,1654],['H',667,1299],['I',1342,1299]].forEach(function (l) {
    text(l[1], l[2], l[0], 26, {weight: 'bold', color: '#000'});
});

var chart = echarts.init(document.getElementById('main'), null, {renderer: 'canvas'});
chart.setOption({
    animation: false,
    backgroundColor: '#fff',
    textStyle: {fontFamily: SANS},
    grid: grids, xAxis: xAxes, yAxis: yAxes, series: series, legend: legends,
    visualMap: {type: 'continuous', seriesIndex: heatIdx, min: -.5, max: .5, calculable: false, left: 1167, top: 1062, itemWidth: 17, itemHeight: 128, text: null, showLabel: false,
        textStyle: {fontSize: 0, color: 'transparent'}, inRange: {color: ['#1F63B0','#8FA9D6','#FFFFFF','#E88A7D','#B2182B']}},
    graphic: {elements: graphics}
});
</script>
</body>
</html>
